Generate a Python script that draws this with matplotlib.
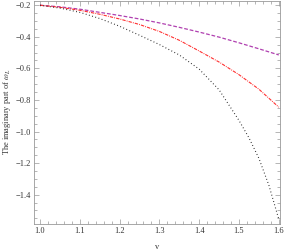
import matplotlib
matplotlib.use('Agg')
from matplotlib import pyplot as plt
from matplotlib.ticker import MultipleLocator, FuncFormatter

# values
v = [1.0, 1.05, 1.1, 1.15, 1.2, 1.25, 1.3, 1.35, 1.4, 1.45, 1.5, 1.55, 1.6]
im_purple = [-0.2, -0.21, -0.225, -0.245, -0.265, -0.287, -0.312, -0.34, -0.37, -0.402, -0.438, -0.476, -0.515]
im_red = [-0.2, -0.213, -0.232, -0.257, -0.287, -0.322, -0.366, -0.422, -0.49, -0.56, -0.64, -0.732, -0.846]

v_black = [1.0, 1.05, 1.1, 1.15, 1.2, 1.25, 1.3, 1.35, 1.4, 1.45, 1.5, 1.525, 1.55, 1.575, 1.6]
im_black = [-0.2, -0.218, -0.245, -0.284, -0.333, -0.39, -0.449, -0.515, -0.605, -0.736, -0.93, -1.04, -1.17, -1.34, -1.556]

plt.rcParams['font.family'] = ['Liberation Serif', 'DejaVu Serif']
plt.rcParams['mathtext.fontset'] = 'stix'

fig = plt.figure(figsize=(2.84, 2.52), dpi=100)
ax = fig.add_axes([34 / 284, 28 / 252, 246 / 284, 223.5 / 252])

ax.plot(v, im_purple, color='#b040b0', lw=0.9, dashes=(3, 1.5))
ax.plot(v, im_red, color='#ff3030', lw=0.8, dashes=(3, 1, 0.8, 1))
ax.plot(v_black, im_black, color='#222222', lw=0.8, dashes=(0.8, 2.2))

ax.set_xlim(0.985, 1.603)
ax.set_ylim(-1.586, -0.170)

ax.xaxis.set_major_locator(MultipleLocator(0.1))
ax.xaxis.set_minor_locator(MultipleLocator(0.02))
ax.yaxis.set_major_locator(MultipleLocator(0.2))
ax.yaxis.set_minor_locator(MultipleLocator(0.05))
ax.xaxis.set_major_formatter(FuncFormatter(lambda x, p: '%.1f' % x))
ax.yaxis.set_major_formatter(FuncFormatter(lambda y, p: ('%.1f' % y).replace('-', '\u2212')))

for s in ax.spines.values():
    s.set_color('#999999')
    s.set_linewidth(0.6)
ax.tick_params(which='both', direction='in', top=True, right=True, colors='#999999',
               labelcolor='#333333', labelsize=6, width=0.5, pad=2)
ax.tick_params(which='major', length=3.5)
ax.tick_params(which='minor', length=2)
ax.tick_params(axis='x', which='both', labeltop=False)

ax.set_xlabel('v', fontsize=6, color='#333333', labelpad=6)
ax.set_ylabel(r'The imaginary part of $\omega_L$', fontsize=6, color='#333333', labelpad=2)

fig.savefig('out.png', dpi=100)
